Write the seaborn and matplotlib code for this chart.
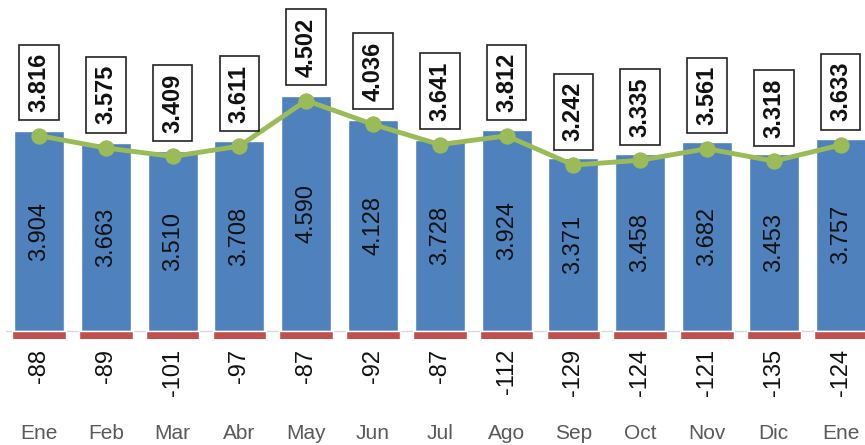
import matplotlib
matplotlib.use("Agg")
import matplotlib.pyplot as plt
import pandas as pd
import seaborn as sns

months = ["Ene", "Feb", "Mar", "Abr", "May", "Jun", "Jul", "Ago", "Sep", "Oct", "Nov", "Dic", "Ene"]
gross = [3904, 3663, 3510, 3708, 4590, 4128, 3728, 3924, 3371, 3458, 3682, 3453, 3757]
losses = [-88, -89, -101, -97, -87, -92, -87, -112, -129, -124, -121, -135, -124]
net = [3816, 3575, 3409, 3611, 4502, 4036, 3641, 3812, 3242, 3335, 3561, 3318, 3633]

BLUE = "#4F81BD"
RED = "#C0504D"
GREEN = "#9BBB59"


def fmt(v):
    """Spanish thousands separator"""
    return f"{v:,}".replace(",", ".")


df = pd.DataFrame({
    "key": [f"{m}_{i}" for i, m in enumerate(months)],
    "gross": gross,
    "losses": losses,
    "net": net,
})

sns.set_theme(style="white")
plt.rcParams["font.family"] = ["Liberation Sans", "DejaVu Sans"]

fig = plt.figure(figsize=(8.65, 4.45), dpi=100)
ax = fig.add_axes([5.6 / 865, 106 / 445, 868.4 / 865, 339 / 445])

sns.barplot(data=df, x="key", y="gross", color=BLUE, width=0.75,
            saturation=1, ax=ax, zorder=2)
ax.axhline(0, color="#D9D9D9", lw=1, zorder=1)
sns.lineplot(x=range(len(net)), y=df["net"], color=GREEN, lw=3.5,
             marker="o", markersize=11, markeredgecolor=GREEN, ax=ax, zorder=4)

ax.set_ylim(-156, 6465)
ax.set_xlim(-0.5, len(months) - 0.5)

# losses on a secondary scale, clipped at the bottom like the original
ax2 = ax.twinx()
sns.barplot(data=df, x="key", y="losses", color=RED, width=0.8,
            saturation=1, ax=ax2, zorder=2)
zero_frac = 156 / (6465 + 156)
ax2.set_ylim(-80, 80 * (1 - zero_frac) / zero_frac)
ax2.set_xlim(-0.5, len(months) - 0.5)

for a in (ax, ax2):
    sns.despine(ax=a, left=True, bottom=True, right=True, top=True)
    a.set_ylabel("")
    a.set_yticks([])
ax2.set_xlabel("")
ax2.tick_params(axis="x", length=0, labelbottom=False)

ax.set_xlabel("")
ax.set_xticks(range(len(months)))
ax.set_xticklabels(months, color="#595959", fontsize=15)
ax.tick_params(axis="x", length=0, pad=61)

for i in range(len(months)):
    ax.text(i, gross[i] / 2, fmt(gross[i]), rotation=90, ha="center",
            va="center", fontsize=17, color="#111111", zorder=5)
    ax.annotate(fmt(losses[i]), xy=(i, 0), xycoords=("data", "axes fraction"),
                xytext=(0, -7), textcoords="offset points", rotation=90,
                ha="center", va="top", fontsize=17, color="#111111",
                annotation_clip=False)
    ax.annotate(fmt(net[i]), xy=(i, net[i]), xytext=(0, 17),
                textcoords="offset points", rotation=90, ha="center",
                va="bottom", fontsize=17, fontweight="bold", color="#111111",
                bbox=dict(boxstyle="square,pad=0.35", fc="white", ec="#222222", lw=1.2),
                zorder=6, annotation_clip=False)

fig.savefig("out.png", dpi=100)
